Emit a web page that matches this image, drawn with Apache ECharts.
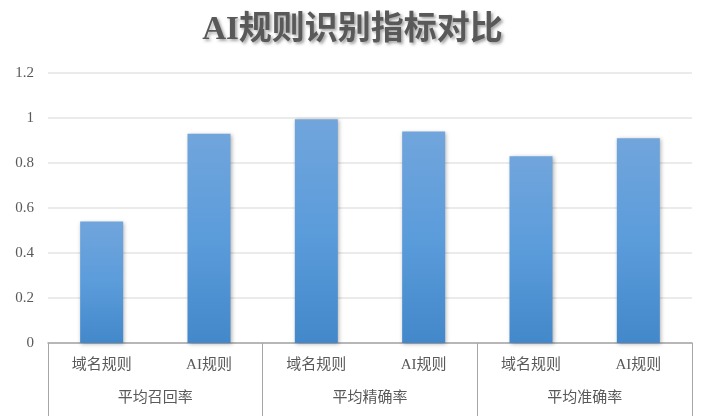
<!DOCTYPE html>
<html lang="zh">
<head>
  <meta charset="UTF-8" />
  <title>AI规则识别指标对比</title>
  <script src="https://cdn.jsdelivr.net/npm/echarts@6/dist/echarts.min.js"></script>
  <style>
    html, body { margin: 0; padding: 0; background: #fff; }
    #main { width: 705px; height: 416px; }
  </style>
</head>
<body>
  <div id="main"></div>
  <script>
    // 数据
    var ruleLabels = ['域名规则', 'AI规则', '域名规则', 'AI规则', '域名规则', 'AI规则'];
    var groupLabels = ['平均召回率', '平均精确率', '平均准确率'];
    var values = [0.54, 0.93, 0.995, 0.94, 0.83, 0.91];

    var textColor = '#595959';
    var fontFamily = '"Liberation Serif", "Noto Sans CJK SC", serif';

    var myChart = echarts.init(document.getElementById('main'));
    var option = {
      animation: false,
      title: {
        text: 'AI规则识别指标对比',
        left: 'center',
        top: 9,
        textStyle: {
          color: textColor,
          fontSize: 33,
          fontWeight: 'bold',
          fontFamily: fontFamily,
          textShadowColor: 'rgba(0,0,0,0.35)',
          textShadowBlur: 3,
          textShadowOffsetX: 2,
          textShadowOffsetY: 2
        }
      },
      grid: { left: 48, right: 13, top: 73, bottom: 73 },
      xAxis: [
        {
          type: 'category',
          data: ruleLabels,
          axisLine: { show: true, lineStyle: { color: '#a6a6a6', width: 1.5 } },
          axisTick: { show: false },
          axisLabel: { color: textColor, fontSize: 15, margin: 15, fontFamily: fontFamily }
        },
        {
          type: 'category',
          data: groupLabels,
          position: 'bottom',
          axisLine: { show: false },
          axisTick: { show: true, length: 73, lineStyle: { color: '#a6a6a6', width: 1 } },
          axisLabel: { color: textColor, fontSize: 15, margin: 48, fontFamily: fontFamily }
        }
      ],
      yAxis: {
        type: 'value',
        min: 0,
        max: 1.2,
        interval: 0.2,
        axisLine: { show: false },
        axisTick: { show: false },
        axisLabel: { color: textColor, fontSize: 15, margin: 14, fontFamily: fontFamily },
        splitLine: { lineStyle: { color: '#ebebeb', width: 2 } }
      },
      series: [
        {
          type: 'bar',
          data: values,
          barWidth: 43,
          itemStyle: {
            color: new echarts.graphic.LinearGradient(0, 0, 0, 1, [
              { offset: 0, color: '#71a5dc' },
              { offset: 0.5, color: '#5b9cdb' },
              { offset: 1, color: '#4388ca' }
            ]),
            shadowColor: 'rgba(0,0,0,0.3)',
            shadowBlur: 4,
            shadowOffsetX: 1,
            shadowOffsetY: 1
          }
        }
      ]
    };
    myChart.setOption(option);
  </script>
</body>
</html>
